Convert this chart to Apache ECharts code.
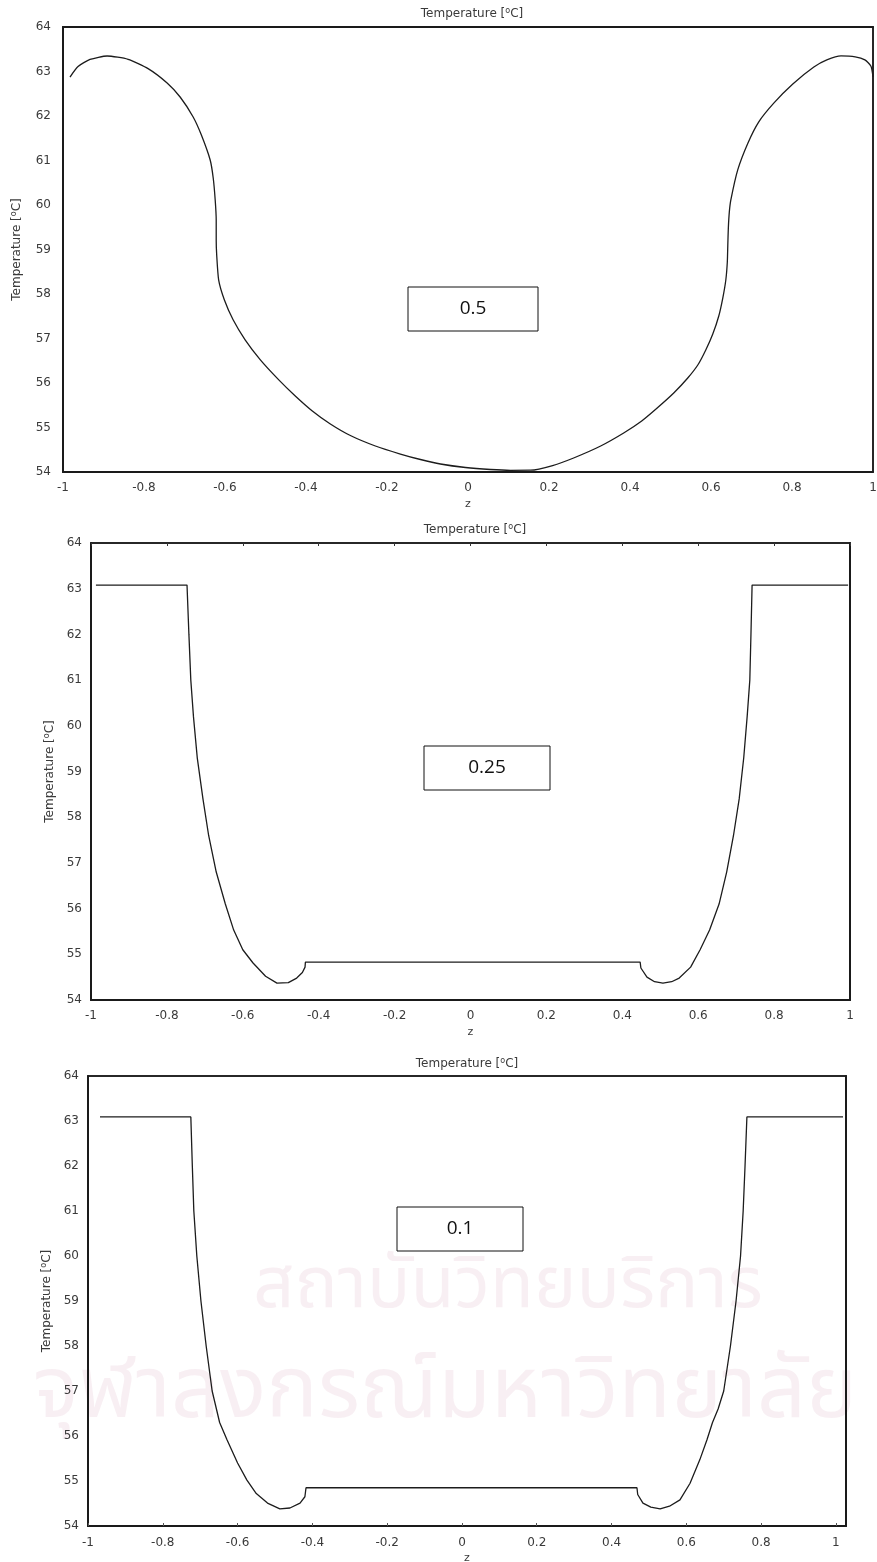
<!DOCTYPE html>
<html>
<head>
<meta charset="utf-8">
<script src="https://cdn.jsdelivr.net/npm/echarts@6/dist/echarts.min.js"></script>
<style>
  html, body { margin: 0; padding: 0; background: #fff; }
  #chart { width: 877px; height: 1562px; }
</style>
</head>
<body>
<div id="chart"></div>
<script>
// Axial temperature profiles T(z) for three cases (0.5, 0.25, 0.1)
const zTicks = [-1, -0.8, -0.6, -0.4, -0.2, 0, 0.2, 0.4, 0.6, 0.8, 1];
const tempTicks = [54, 55, 56, 57, 58, 59, 60, 61, 62, 63, 64];
const caseLabels = ['0.5', '0.25', '0.1'];

// case 0.5 : [z, T]
const profile05 = [
  [-0.9827, 62.876], [-0.9629, 63.112], [-0.9333, 63.270], [-0.8912, 63.348], [-0.8393, 63.274],
  [-0.7899, 63.065], [-0.7429, 62.742], [-0.7108, 62.427], [-0.6786, 61.978], [-0.6588, 61.582],
  [-0.6366, 61.011], [-0.6291, 60.607], [-0.6242, 60.112], [-0.6217, 59.66], [-0.6217, 59.21],
  [-0.6205, 58.876], [-0.6156, 58.31], [-0.6017, 57.87], [-0.580, 57.42], [-0.5503, 56.97],
  [-0.5127, 56.52], [-0.4672, 56.07], [-0.4265, 55.708], [-0.3844, 55.371], [-0.3399, 55.079],
  [-0.2905, 54.820], [-0.2287, 54.584], [-0.1669, 54.404], [-0.1174, 54.281], [-0.0680, 54.180],
  [-0.0062, 54.101], [0.0556, 54.056], [0.1051, 54.038], [0.1545, 54.04], [0.2089, 54.146],
  [0.2608, 54.315], [0.3276, 54.584], [0.3844, 54.876], [0.4289, 55.146], [0.4685, 55.449],
  [0.5080, 55.775], [0.5426, 56.112], [0.5674, 56.404], [0.5871, 56.742], [0.6044, 57.101],
  [0.6192, 57.506], [0.6291, 57.910], [0.6366, 58.315], [0.6403, 58.72], [0.6415, 59.10],
  [0.6428, 59.48], [0.6452, 59.84], [0.6489, 60.11], [0.666, 60.79], [0.691, 61.39],
  [0.718, 61.87], [0.755, 62.29], [0.802, 62.72], [0.854, 63.10], [0.886, 63.26],
  [0.921, 63.35], [0.956, 63.33], [0.980, 63.26], [0.995, 63.12], [1.0, 62.88]
];

// case 0.25 : [z, T]
const profile025 = [
  [-0.987, 63.08], [-0.747, 63.08], [-0.742, 62.0], [-0.737, 61.0], [-0.73, 60.2],
  [-0.72, 59.3], [-0.705, 58.4], [-0.69, 57.6], [-0.67, 56.8], [-0.646, 56.1],
  [-0.624, 55.53], [-0.60, 55.1], [-0.573, 54.81], [-0.54, 54.52], [-0.51, 54.37],
  [-0.48, 54.38], [-0.458, 54.48], [-0.443, 54.6], [-0.436, 54.72], [-0.435, 54.83],
  [0.447, 54.83], [0.449, 54.7], [0.465, 54.5], [0.485, 54.4], [0.507, 54.37],
  [0.53, 54.4], [0.55, 54.48], [0.58, 54.72], [0.605, 55.1], [0.63, 55.53],
  [0.655, 56.1], [0.675, 56.8], [0.693, 57.6], [0.708, 58.4], [0.72, 59.3],
  [0.729, 60.2], [0.736, 61.0], [0.739, 62.0], [0.742, 63.08], [0.995, 63.08]
];

// case 0.1 : [z, T]
const profile01 = [
  [-0.968, 63.09], [-0.725, 63.09], [-0.721, 62.0], [-0.717, 61.0], [-0.709, 60.0],
  [-0.698, 59.0], [-0.684, 58.0], [-0.668, 57.0], [-0.648, 56.3], [-0.628, 55.91],
  [-0.60, 55.4], [-0.575, 55.02], [-0.55, 54.72], [-0.52, 54.51], [-0.487, 54.38],
  [-0.46, 54.4], [-0.433, 54.51], [-0.42, 54.65], [-0.417, 54.85],
  [0.468, 54.85], [0.47, 54.7], [0.484, 54.51], [0.505, 54.42], [0.53, 54.38],
  [0.555, 54.44], [0.583, 54.58], [0.61, 54.95], [0.636, 55.47], [0.655, 55.91],
  [0.67, 56.3], [0.685, 56.6], [0.70, 57.0], [0.718, 58.0], [0.733, 59.0],
  [0.745, 60.0], [0.752, 61.0], [0.757, 62.0], [0.762, 63.09], [1.019, 63.09]
];

const FONT = '"DejaVu Sans", Verdana, sans-serif';
const LABEL_COLOR = '#3a3a3a';
const LINE_COLOR = '#1c1c1c';
const titleText = 'Temperature [{s|o}C]';
const supRich = {
  s: { fontSize: 8, verticalAlign: 'top', padding: [0, 0, 6, 0], color: LABEL_COLOR, fontFamily: FONT }
};

// panel geometry (pixels)
const panels = [
  { left: 63, top: 27, width: 810, height: 445, xMax: 1, yGap: 39, yMargin: 12, xMargin: 10, xGap: 27, topTicks: false, title: [467, 2] },
  { left: 91, top: 543, width: 759, height: 457, xMax: 1, yGap: 34, yMargin: 9, xMargin: 10, xGap: 27, topTicks: true, title: [470, 518] },
  { left: 88, top: 1076, width: 758, height: 450, xMax: 1.027, yGap: 34, yMargin: 9, xMargin: 11, xGap: 27, topTicks: false, title: [462, 1052] }
];
const profiles = [profile05, profile025, profile01];

const grids = panels.map(p => ({
  left: p.left, top: p.top, width: p.width, height: p.height,
  outerBoundsMode: 'none', containLabel: false,
  show: true, borderColor: '#1a1a1a', borderWidth: 1.5, backgroundColor: 'transparent'
}));

const xAxes = [];
const yAxes = [];
panels.forEach((p, i) => {
  xAxes.push({
    type: 'value', gridIndex: i, min: zTicks[0], max: p.xMax, interval: 0.2,
    position: 'bottom',
    name: 'z', nameLocation: 'middle', nameGap: p.xGap,
    nameTextStyle: { color: LABEL_COLOR, fontSize: 11, fontFamily: FONT },
    axisLine: { show: true, onZero: false, lineStyle: { color: '#1a1a1a', width: 2 } },
    axisTick: { show: i === 2, inside: true, length: 3, lineStyle: { color: '#555' } },
    splitLine: { show: false },
    axisLabel: {
      color: LABEL_COLOR, fontSize: 12, fontFamily: FONT, margin: p.xMargin,
      showMaxLabel: p.xMax === 1,
      formatter: v => {
        const r = Math.round(v * 10) / 10;
        return zTicks.some(t => Math.abs(t - r) < 1e-9) && Math.abs(v - r) < 1e-6 ? String(r) : '';
      }
    }
  });
  xAxes.push({
    type: 'value', gridIndex: i, min: zTicks[0], max: p.xMax, interval: 0.2,
    position: 'top',
    axisLine: { show: true, onZero: false, lineStyle: { color: '#1a1a1a', width: i === 0 ? 2 : 1.5 } },
    axisTick: { show: p.topTicks, inside: true, length: 3, lineStyle: { color: '#333' } },
    axisLabel: { show: false }, splitLine: { show: false }
  });
  yAxes.push({
    type: 'value', gridIndex: i, min: tempTicks[0], max: tempTicks[tempTicks.length - 1], interval: 1,
    name: titleText, nameLocation: 'middle', nameGap: p.yGap, nameRotate: 90,
    nameTextStyle: { color: LABEL_COLOR, fontSize: 12, fontFamily: FONT, rich: supRich },
    axisLine: { show: true, onZero: false, lineStyle: { color: '#1a1a1a', width: 2 } },
    axisTick: { show: false },
    splitLine: { show: false },
    axisLabel: { color: LABEL_COLOR, fontSize: 12, fontFamily: FONT, margin: p.yMargin }
  });
  yAxes.push({
    type: 'value', gridIndex: i, min: tempTicks[0], max: tempTicks[tempTicks.length - 1], interval: 1,
    position: 'right',
    axisLine: { show: true, onZero: false, lineStyle: { color: '#1a1a1a', width: i === 0 ? 1.5 : 2 } },
    axisTick: { show: false }, axisLabel: { show: false }, splitLine: { show: false }
  });
});

const series = profiles.map((data, i) => ({
  type: 'line', xAxisIndex: i * 2, yAxisIndex: i * 2, data: data,
  showSymbol: false, smooth: i === 0 ? 0.2 : false,
  lineStyle: { color: LINE_COLOR, width: 1.3 }, z: 5
}));

const titles = panels.map(p => ({
  text: titleText, left: p.title[0], top: p.title[1], textAlign: 'center',
  textStyle: { color: LABEL_COLOR, fontSize: 12, fontWeight: 'normal', fontFamily: FONT, rich: supRich }
}));

// case label boxes
const boxes = [
  { x: 408, y: 287, w: 130, h: 44 },
  { x: 424, y: 746, w: 126, h: 44 },
  { x: 397, y: 1207, w: 126, h: 44 }
];
const graphics = [];
boxes.forEach((b, i) => {
  graphics.push({
    type: 'rect', shape: { x: b.x, y: b.y, width: b.w, height: b.h }, z: 10,
    style: { fill: '#fff', stroke: '#111', lineWidth: 1 }
  });
  graphics.push({
    type: 'text', x: b.x + b.w / 2, y: b.y + b.h / 2, z: 11,
    style: { text: caseLabels[i], fill: '#111', font: '19px "Open Sans", "Liberation Sans", sans-serif', align: 'center', verticalAlign: 'middle' }
  });
});
// faint institutional watermark text
graphics.push({
  type: 'text', x: 508, y: 1292, z: -1, silent: true,
  style: { text: 'สถาบันวิทยบริการ', fill: 'rgba(190,110,150,0.11)', font: '72px "Noto Sans Thai", "Noto Sans", sans-serif', align: 'center', verticalAlign: 'middle' }
});
graphics.push({
  type: 'text', x: 445, y: 1400, z: -1, silent: true,
  style: { text: 'จุฬาลงกรณ์มหาวิทยาลัย', fill: 'rgba(190,110,150,0.11)', font: '86px "Noto Sans Thai", "Noto Sans", sans-serif', align: 'center', verticalAlign: 'middle' }
});

const chart = echarts.init(document.getElementById('chart'), null, { renderer: 'canvas' });
chart.setOption({
  animation: false,
  backgroundColor: '#fff',
  title: titles,
  grid: grids,
  xAxis: xAxes,
  yAxis: yAxes,
  series: series,
  graphic: graphics
});
</script>
</body>
</html>
